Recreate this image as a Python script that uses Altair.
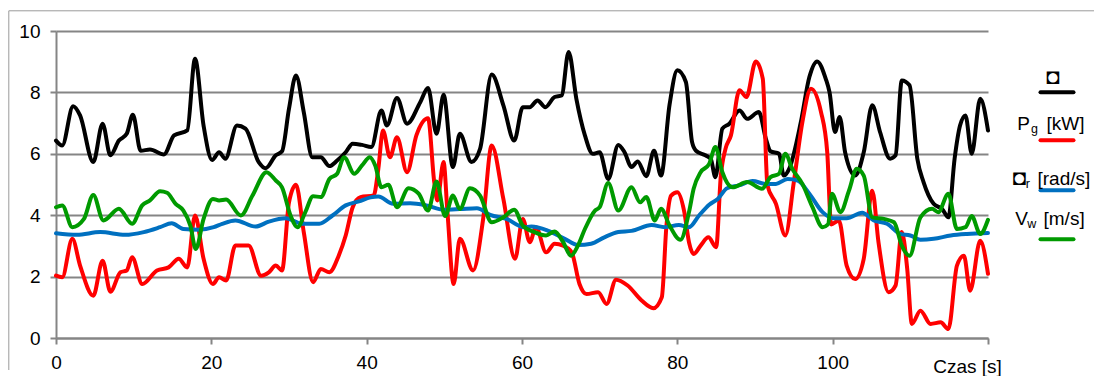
import altair as alt
import pandas as pd

# ---------------- data ----------------
series_names = ["lam", "Pg", "wr", "Vw"]
series_colors = ["#000000", "#FF0000", "#0070C0", "#009A00"]

t_black = [0, 0.8, 2.2, 3.1, 4.8, 6.0, 7.0, 8.1, 9.1, 9.9, 10.9, 12.1, 13.9, 15.2, 16.9, 17.9, 19.0, 20.1, 21.0, 21.8,
           23.3, 24.4, 26.1, 27.0, 28.3, 29.1, 30.0, 30.9, 31.9, 33.0, 34.1, 35.2, 36.2, 37.3, 38.2, 39.4, 40.6, 41.9,
           42.6, 43.9, 45.2, 46.9, 47.9, 49.0, 49.9, 51.1, 52.0, 53.5, 54.6, 56.1, 57.6, 59.0, 60.1, 61.0, 62.0, 63.0,
           64.2, 65.1, 66.0, 67.0, 68.1, 69.1, 70.0, 71.1, 72.4, 73.2, 74.1, 74.9, 76.0, 77.0, 77.9, 79.0, 80.0, 81.1,
           81.9, 82.4, 83.6, 84.3, 84.9, 85.8, 86.7, 88.0, 89.0, 90.5, 91.4, 92.0, 93.1, 93.7, 94.4, 95.9, 97.0, 98.0,
           99.1, 99.6, 100.3, 100.9, 101.6, 102.9, 104.0, 105.1, 106.1, 107.4, 108.1, 108.9, 109.9, 110.9, 111.7,
           113.0, 114.1, 114.9, 115.7, 116.4, 117.1, 117.9, 119.0, 120.0]
v_black = [6.43, 6.27, 7.55, 7.25, 5.73, 6.98, 5.95, 6.43, 6.65, 7.27, 6.1, 6.14, 5.98, 6.6, 6.76, 9.1, 6.92, 5.8, 6.05, 5.84,
           6.92, 6.82, 5.73, 5.53, 5.95, 6.08, 7.47, 8.55, 7.36, 5.89, 5.89, 5.6, 5.78, 6.05, 6.33, 6.29, 6.22, 7.41,
           6.92, 7.82, 6.98, 7.68, 8.14, 6.65, 7.92, 5.57, 6.65, 5.73, 6.16, 8.58, 7.58, 6.43, 7.52, 7.52, 7.74, 7.52,
           7.85, 7.9, 9.32, 7.79, 6.6, 6.0, 6.05, 5.18, 6.29, 6.05, 5.57, 5.75, 5.27, 6.1, 5.29, 7.6, 8.72, 8.34,
           6.38, 6.1, 5.95, 5.84, 5.24, 6.82, 6.98, 7.41, 7.14, 7.36, 6.49, 6.08, 6.0, 5.29, 5.51, 7.03, 8.5, 9.01,
           8.45, 8.0, 6.71, 7.2, 6.05, 5.29, 6.05, 7.58, 6.71, 5.84, 5.95, 8.39, 8.23, 5.84, 5.08,
           4.37, 4.2, 3.93, 5.84, 6.92, 7.25, 6.0, 7.79, 6.76]

t_red = [0, 0.8, 2.1, 3.1, 4.8, 6.0, 7.0, 8.3, 9.1, 9.8, 11.1, 13.0, 14.5, 15.8, 16.9, 17.9, 19.0, 20.2, 21.0, 21.9,
         23.1, 24.8, 26.4, 27.4, 28.3, 29.1, 30.0, 30.9, 31.9, 33.1, 34.1, 35.2, 36.4, 37.3, 38.2, 39.2, 40.9, 41.5,
         42.1, 43.0, 43.9, 45.2, 46.4, 47.9, 48.7, 49.1, 49.9, 50.4, 51.2, 52.0, 53.7, 55.0, 56.1, 57.6, 59.1, 60.1,
         61.0, 61.8, 63.1, 64.2, 65.3, 66.4, 67.4, 68.3, 69.8, 70.9, 72.1, 73.6, 75.4, 76.9, 78.0, 78.6, 79.2, 80.0,
         80.9, 81.5, 82.1, 83.0, 84.0, 85.0, 85.6, 86.2, 86.9, 88.0, 88.9, 90.1, 91.0, 91.6, 92.7, 93.9, 95.0, 96.1,
         97.2, 98.5, 99.3, 99.8, 100.8, 101.8, 102.9, 104.0, 105.1, 105.9, 107.2, 108.1, 108.9, 109.6, 110.2, 111.3,
         112.6, 113.9, 114.9, 116.0, 116.9, 117.7, 119.0, 120.0]
v_red = [2.03, 1.98, 3.23, 2.36, 1.38, 2.52, 1.51, 2.14, 2.2, 2.63, 1.76, 2.2, 2.3, 2.58, 2.3, 3.99, 2.58, 1.76, 1.98, 1.87,
         3.01, 3.01, 2.03, 2.14, 2.36, 2.2, 4.42, 4.99, 3.45, 1.82, 2.25, 2.14, 2.68, 3.34, 4.26, 4.59, 4.64, 5.51,
         6.76, 5.89, 6.54, 5.4, 6.6, 7.16, 5.08, 4.48, 5.73, 4.1, 1.76, 3.23, 2.2, 3.88, 6.27, 4.53, 2.58, 3.88,
         3.12, 3.61, 2.79, 3.07, 3.01, 2.79, 1.76, 1.43, 1.49, 1.11, 1.9, 1.71, 1.22, 0.97, 1.33, 3.66, 4.64, 4.75,
         4.1, 3.12, 2.74, 3.01, 3.28, 2.96, 5.29, 6.16, 6.6, 8.07, 7.85, 9.01, 8.45, 4.97, 4.37, 3.34, 5.08, 7.03,
         8.12, 7.36, 6.05, 3.7, 3.83, 2.36, 1.92, 2.58, 4.8, 3.12, 1.49, 1.71, 3.45, 2.25, 0.46, 0.89,
         0.46, 0.51, 0.29, 2.36, 2.68, 1.54, 3.17, 2.09]

t_blue = [0, 2.7, 5.7, 8.9, 11.3, 13.4, 14.9, 16.4, 18.4, 20.3, 21.4, 23.1, 25.7, 27.4, 29.6, 31.7, 33.9, 35.6, 37.3,
          39.0, 40.5, 41.5, 43.4, 45.6, 47.7, 49.9, 52.0, 54.2, 55.9, 58.0, 60.2, 61.2, 63.3, 65.5, 67.2, 68.9, 70.6,
          72.4, 74.1, 76.7, 78.4, 80.2, 81.5, 82.8, 84.1, 85.2, 86.4, 87.9, 89.7, 91.4, 92.7, 94.2, 95.5, 97.0, 98.7,
          100.1, 101.8, 103.8, 105.3, 107.0, 108.7, 110.0, 111.3, 113.0, 115.2, 117.3, 120.0]
v_blue = [3.41, 3.36, 3.45, 3.36, 3.45, 3.61, 3.74, 3.55, 3.53, 3.61, 3.72, 3.83, 3.63, 3.79, 3.9, 3.72, 3.72, 3.99, 4.32,
          4.45, 4.58, 4.61, 4.37, 4.39, 4.32, 4.18, 4.2, 4.23, 4.01, 3.88, 3.61, 3.63, 3.5, 3.23, 3.03, 3.07, 3.28,
          3.45, 3.49, 3.68, 3.61, 3.68, 3.61, 3.99, 4.34, 4.53, 4.88, 4.97, 5.11, 5.02, 5.02, 5.18, 5.13, 4.7, 4.1,
          3.9, 3.9, 4.08, 3.83, 3.72, 3.39, 3.34, 3.2, 3.23, 3.34, 3.39, 3.42]

t_green = [0, 0.8, 2.1, 3.6, 4.8, 6.1, 8.1, 9.8, 11.1, 12.1, 13.4, 14.3, 15.4, 16.4, 17.3, 18.0, 19.0, 20.2, 21.0, 21.9,
           23.8, 25.3, 27.1, 28.3, 29.1, 30.2, 31.1, 32.1, 33.1, 34.1, 35.2, 36.2, 37.1, 38.4, 39.4, 40.4, 41.1, 41.9,
           42.8, 43.9, 45.4, 46.7, 47.9, 49.0, 50.1, 51.1, 52.0, 53.3, 54.6, 56.1, 57.6, 59.0, 60.1, 61.6, 63.1, 64.2,
           65.3, 66.3, 67.2, 68.1, 69.4, 70.0, 71.1, 72.4, 74.1, 75.2, 76.0, 77.1, 77.9, 79.0, 80.4, 81.5, 82.1, 83.0,
           84.1, 84.9, 85.8, 87.1, 89.0, 90.9, 92.0, 93.1, 93.9, 94.8, 96.1, 97.4, 98.7, 99.4, 99.9, 101.0, 102.1,
           103.1, 104.0, 105.1, 106.6, 107.9, 108.9, 109.9, 111.3, 112.8, 113.6, 114.9, 116.0, 117.1, 117.9, 119.0,
           120.0]
v_green = [4.26, 4.32, 3.61, 3.88, 4.66, 3.83, 4.21, 3.72, 4.32, 4.48, 4.78, 4.73, 4.37, 4.15, 3.66, 2.9, 3.88, 4.53, 4.48, 4.51,
           3.99, 4.64, 5.4, 5.13, 4.91, 3.99, 3.61, 4.1, 4.62, 4.59, 5.18, 5.35, 5.89, 5.35, 5.62, 5.89, 5.62, 4.91,
           4.99, 4.26, 4.88, 4.7, 4.15, 5.1, 3.97, 4.64, 4.2, 4.88, 4.64, 3.77, 3.93, 4.18, 3.66, 3.45, 3.34, 3.47,
           3.12, 2.68, 3.01, 3.55, 4.15, 4.26, 5.05, 4.15, 4.91, 4.42, 4.59, 3.83, 4.21, 3.66, 3.2, 4.1, 4.86, 5.4,
           5.67, 6.22, 5.4, 4.91, 5.08, 4.86, 5.24, 5.35, 6.0, 5.51, 5.02, 4.26, 3.61, 3.7, 4.7, 4.1, 4.8,
           5.51, 5.29, 3.93, 3.88, 3.77, 3.01, 2.68, 3.93, 4.21, 4.1, 4.7, 3.55, 3.61, 3.97, 3.39,
           3.85]

x_ticks = [0, 20, 40, 60, 80, 100, 120]
y_ticks = [0, 2, 4, 6, 8, 10]
x_title = "Czas [s]"

legend_main = ["\u25d8", "P", "\u25d8", "V"]
legend_sub = ["", "g", "r", "w"]
legend_unit = ["", "[kW]", "[rad/s]", "[m/s]"]

FONT = "Liberation Sans"
GRID = "#858585"

W, H = 932, 307

xs = alt.Scale(domain=[0, 120], nice=False, zero=False)
ys = alt.Scale(domain=[0, 10], nice=False, zero=True)

x_axis = alt.Axis(
    values=x_ticks, grid=False, title=None, labelFlush=False,
    labelExpr="datum.value == 120 ? '%s' : datum.label" % x_title,
    labelOffset={"condition": {"test": "datum.value == 120", "value": -21}, "value": 0},
    labelPadding={"condition": {"test": "datum.value == 120", "value": 13}, "value": 9},
    labelFont=FONT, labelFontSize=19, labelColor="#000000",
    domainColor=GRID, domainWidth=2, tickColor=GRID, tickWidth=2, tickSize=6,
)
y_axis = alt.Axis(
    values=y_ticks, grid=True, gridColor=GRID, gridWidth=2, title=None,
    labelFont=FONT, labelFontSize=19, labelColor="#000000", labelPadding=10,
    domainColor=GRID, domainWidth=2, tickColor=GRID, tickWidth=2, tickSize=6,
)

rows = []
all_series = [(t_black, v_black), (t_red, v_red), (t_blue, v_blue), (t_green, v_green)]
for i, (ts, vs) in enumerate(all_series):
    for t, v in zip(ts, vs):
        rows.append({"t": t, "v": v, "s": series_names[i], "o": i})
lines_df = pd.DataFrame(rows)

lines = alt.Chart(lines_df).mark_line(
    interpolate="monotone", strokeWidth=4, strokeJoin="round", strokeCap="round"
).encode(
    x=alt.X("t:Q", scale=xs, axis=x_axis),
    y=alt.Y("v:Q", scale=ys, axis=y_axis),
    color=alt.Color("s:N", scale=alt.Scale(domain=series_names, range=series_colors), legend=None),
    detail="o:O",
)

one = pd.DataFrame({"k": [0]})
layers = [lines]

# outer chart-area border (top and left edges)
layers.append(alt.Chart(one).mark_rule(color="#9A9A9A", strokeWidth=1).encode(
    x=alt.value(-47.2), y=alt.value(-20.2), y2=alt.value(339)))
layers.append(alt.Chart(one).mark_rule(color="#9A9A9A", strokeWidth=1).encode(
    x=alt.value(-47.2), x2=alt.value(1038), y=alt.value(-20.2)))

# legend (label above line sample)
line_y = [61.3, 109.3, 159.3, 208.3]
main_x = [990.3, 961.3, 956.8, 959.3]
main_y = [52.5, 99.0, 153.5, 193.8]
main_size = [22, 19, 22, 19]
sub_x = [0, 975.0, 969.8, 971.3]
unit_x = [0, 990.5, 981.5, 987.5]
for i in range(4):
    layers.append(alt.Chart(one).mark_rule(color=series_colors[i], strokeWidth=4, strokeCap="round").encode(
        x=alt.value(984.5), x2=alt.value(1017.5), y=alt.value(line_y[i])))
    layers.append(alt.Chart(one).mark_text(font=FONT, fontSize=main_size[i], align="left", baseline="alphabetic",
                                           color="#000000").encode(
        x=alt.value(main_x[i]), y=alt.value(main_y[i]), text=alt.value(legend_main[i])))
    if legend_sub[i]:
        layers.append(alt.Chart(one).mark_text(font=FONT, fontSize=12.5, align="left", baseline="alphabetic",
                                               color="#000000").encode(
            x=alt.value(sub_x[i]), y=alt.value(main_y[i] + 3), text=alt.value(legend_sub[i])))
    if legend_unit[i]:
        layers.append(alt.Chart(one).mark_text(font=FONT, fontSize=19, align="left", baseline="alphabetic",
                                               color="#000000").encode(
            x=alt.value(unit_x[i]), y=alt.value(main_y[i]), text=alt.value(legend_unit[i])))

chart = alt.layer(*layers).properties(
    width=W, height=H,
    padding={"left": 0, "top": 2, "right": 0, "bottom": 0},
    background="#FFFFFF",
).configure_view(stroke=None)

chart.save("out.html", embed_options={"renderer": "svg", "actions": False})
